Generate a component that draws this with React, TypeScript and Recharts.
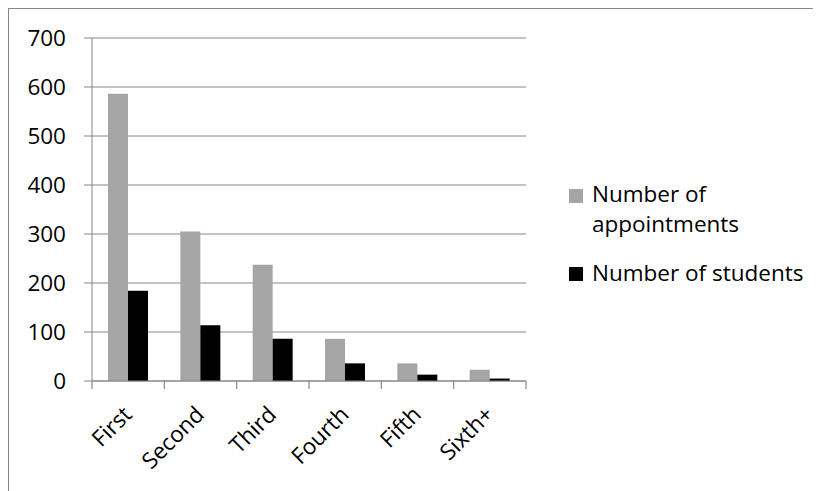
import React from 'react';
import { BarChart, Bar, XAxis, YAxis, CartesianGrid } from 'recharts';

const categories = ['First', 'Second', 'Third', 'Fourth', 'Fifth', 'Sixth+'];
const appointments = [586, 305, 237, 86, 36, 23];
const students = [184, 114, 86, 36, 13, 5];
const yTicks = [0, 100, 200, 300, 400, 500, 600, 700];
const seriesNames = ['Number of appointments', 'Number of students'];
const seriesColors = ['#a5a5a5', '#000000'];

const data = categories.map((name, i) => ({
    name,
    appointments: appointments[i],
    students: students[i],
}));

const FONT = '"Open Sans", sans-serif';
const FONT_SIZE = 22.5;
const AXIS = '#868686';

// rotated category label + tick marks on the category boundaries
const XTick = (props: any) => {
    const { x, y, payload, index, width, visibleTicksCount } = props;
    const count = Number(visibleTicksCount) || categories.length;
    const band = Number(width) / count;
    const half = Number.isFinite(band) && band > 0 ? band / 2 : 36.2;
    const ax = x + 5;
    const ay = y + 35;
    return (
        <g>
            <line x1={x - half} x2={x - half} y1={y} y2={y + 8} stroke={AXIS} strokeWidth={1.2} />
            {index === count - 1 && (
                <line x1={x + half} x2={x + half} y1={y} y2={y + 8} stroke={AXIS} strokeWidth={1.2} />
            )}
            <text x={ax} y={ay} transform={`rotate(-45 ${ax} ${ay})`} textAnchor="end"
                fontSize={FONT_SIZE} fontFamily={FONT} fill="#000">
                {payload.value}
            </text>
        </g>
    );
};

const legendTops = [169.7, 248.7];
const squareTops = [180, 258.3];

const App: React.FC = () => {
    return (
        <div style={{ position: 'relative', width: 812, height: 482, borderTop: `1px solid ${AXIS}`, borderLeft: `1px solid ${AXIS}` }}>
            <BarChart width={812} height={482} data={data} barGap={0} barSize={20}
                margin={{ top: 29, right: 295, bottom: 0, left: 0 }}>
                <CartesianGrid vertical={false} stroke={AXIS} strokeWidth={1} />
                <XAxis dataKey="name" height={110} tickLine={false} tickSize={0} tickMargin={0}
                    axisLine={{ stroke: AXIS }} tick={<XTick />} interval={0} />
                <YAxis width={83} domain={[0, 700]} ticks={yTicks} tickSize={8} tickMargin={18}
                    axisLine={{ stroke: AXIS }} tickLine={{ stroke: AXIS }}
                    tick={{ fontSize: FONT_SIZE, fontFamily: FONT, fill: '#000' }} />
                <Bar dataKey="appointments" name={seriesNames[0]} fill={seriesColors[0]} isAnimationActive={false} />
                <Bar dataKey="students" name={seriesNames[1]} fill={seriesColors[1]} isAnimationActive={false} />
            </BarChart>
            {seriesNames.map((name, i) => (
                <React.Fragment key={name}>
                    <div style={{ position: 'absolute', left: 560, top: squareTops[i], width: 14, height: 14, background: seriesColors[i] }} />
                    <div style={{ position: 'absolute', left: 583, top: legendTops[i], width: 230, fontFamily: FONT, fontSize: FONT_SIZE, lineHeight: '30.6px', color: '#000' }}>
                        {name}
                    </div>
                </React.Fragment>
            ))}
        </div>
    );
};

export default App;
